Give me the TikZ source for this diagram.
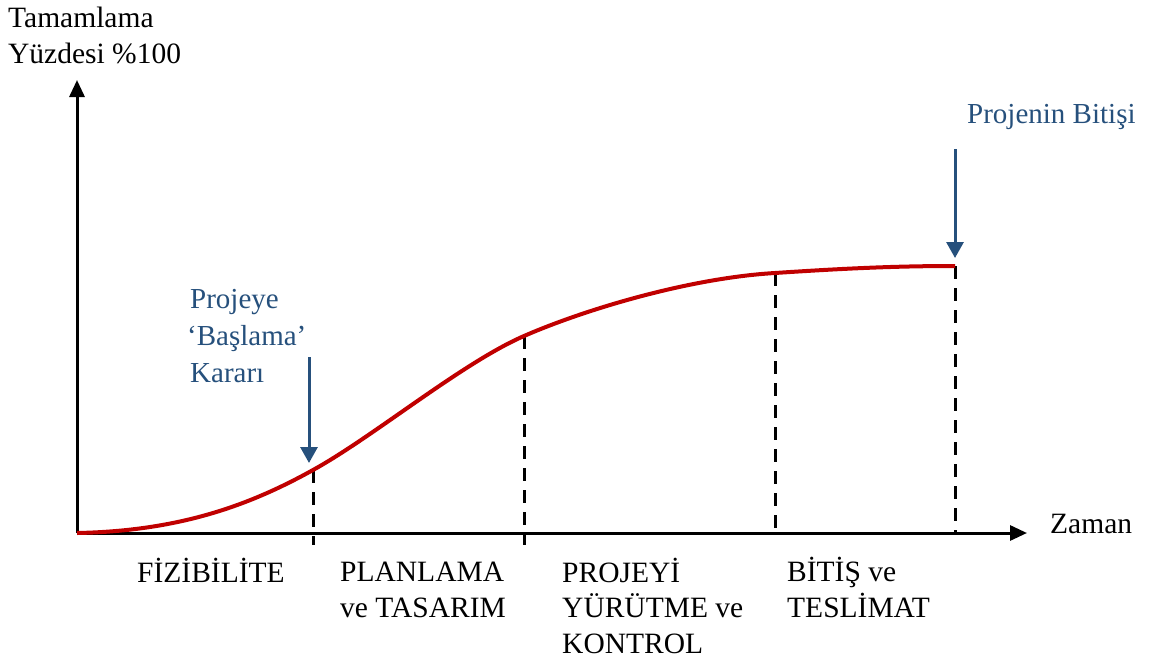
\documentclass[tikz,border=0pt]{standalone}
\usepackage{fontspec}
\setmainfont{Liberation Serif}
\usetikzlibrary{arrows.meta}
\definecolor{curvered}{RGB}{192,0,0}
\definecolor{noteblue}{RGB}{38,80,124}
\begin{document}
\begin{tikzpicture}[x=1pt,y=-1pt,
  axis/.style={line width=3pt,-{Triangle[length=17pt,width=15pt]}},
  guide/.style={line width=3pt,dash pattern=on 13pt off 9pt},
  note/.style={noteblue,line width=3pt,-{Triangle[length=16pt,width=17pt]}},
  % the base anchor of a multi-line label sits on its last line
  lbl/.style={font=\fontsize{29.5}{35.5}\selectfont,align=left,inner sep=0pt,anchor=base west},
  bluelbl/.style={lbl,text=noteblue,font=\fontsize{29}{37}\selectfont},
  scurve/.style={curvered,line width=4pt}
]
\useasboundingbox (0,0) rectangle (1159,662);

% axes
\coordinate (O) at (77,533);
\coordinate (ytop) at (77,80);
\coordinate (xend) at (1027,533);
\draw[axis] (O) -- (ytop);
\draw[axis] (O) -- (xend);

% phase boundaries on the curve
\coordinate (p1) at (313,470);
\coordinate (p2) at (524,336);
\coordinate (p3) at (775,273);
\coordinate (p4) at (955,266);
\coordinate (b1) at (313,545);
\coordinate (b2) at (524,545);
\coordinate (b3) at (775,533);
\coordinate (b4) at (955,533);

\draw[guide] (p1) -- (b1);
\draw[guide] (p2) -- (b2);
\draw[guide] (p3) -- (b3);
\draw[guide] (p4) -- (b4);

% completion curve
\draw[scurve] (O) .. controls (180,531) and (250,505) .. (p1)
  .. controls (373,437) and (462,363) .. (p2)
  .. controls (586,309) and (690,278) .. (p3)
  .. controls (850,268) and (900,266) .. (p4);

% axis labels
\node[lbl] (ylab) at (8,63) {Tamamlama\\Yüzdesi \%100};
\node[lbl] (xlab) at (1050,533) {Zaman};

% phase labels
\node[lbl] (f1) at (137,582) {FİZİBİLİTE};
\node[lbl] (f2) at (340,617) {PLANLAMA\\ve TASARIM};
\node[lbl] (f3) at (562,653) {PROJEYİ\\YÜRÜTME ve\\KONTROL};
\node[lbl] (f4) at (787,617) {BİTİŞ ve\\TESLİMAT};

% milestones
\node[bluelbl] (start) at (187,382) {\hspace*{3pt}Projeye\\‘Başlama’\\\hspace*{3pt}Kararı};
\coordinate (s0) at (309,357);
\coordinate (s1) at (309,463);
\draw[note] (s0) -- (s1);

\node[bluelbl] (finish) at (967,123) {Projenin Bitişi};
\coordinate (e0) at (955,149);
\coordinate (e1) at (955,258);
\draw[note] (e0) -- (e1);
\end{tikzpicture}
\end{document}
